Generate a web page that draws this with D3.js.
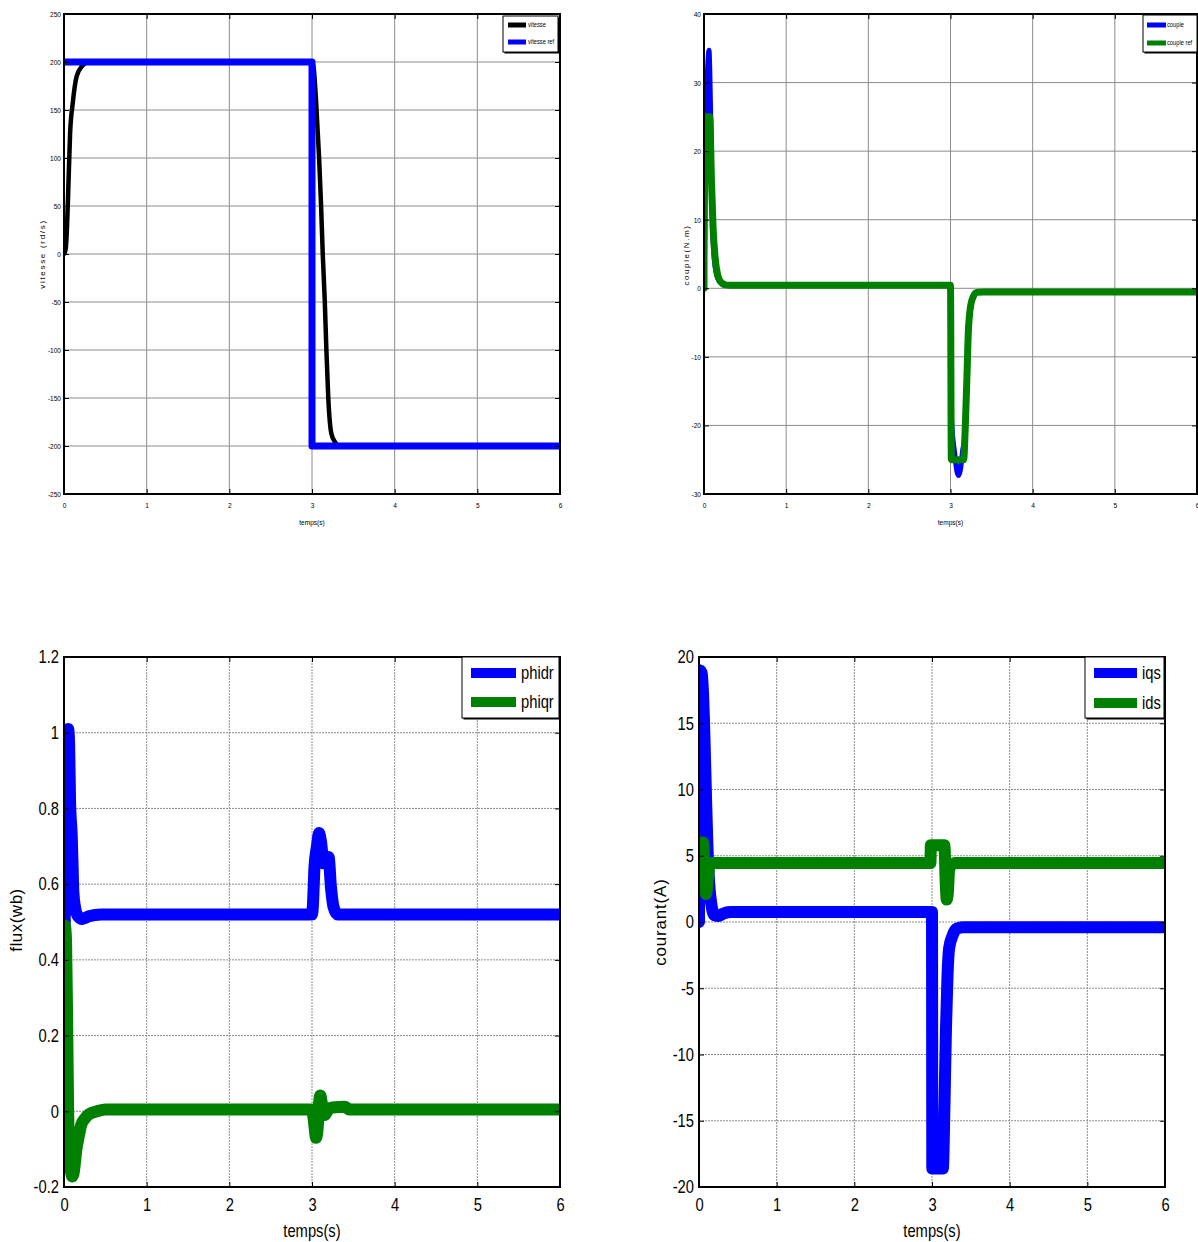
<!DOCTYPE html>
<html>
<head>
<meta charset="utf-8">
<script src="https://cdn.jsdelivr.net/npm/d3@7"></script>
<style>
  body { margin: 0; background: #ffffff; }
  svg { display: block; }
</style>
</head>
<body>
<svg id="fig" width="1198" height="1242"></svg>
<script>
// ---- shared time axis ----
const timeTicks = [0, 1, 2, 3, 4, 5, 6];

// ---- speed (rd/s) ----
const vitesseTicks = [-250, -200, -150, -100, -50, 0, 50, 100, 150, 200, 250];
const vitesseT = [0, 0.02, 0.035, 0.051, 0.074, 0.107, 0.153, 0.222, 0.3, 3.0, 3.02, 3.05, 3.086, 3.11, 3.13, 3.155, 3.174, 3.197, 3.234, 3.28, 3.33, 6];
const vitesseV = [0, 5, 25, 65, 126, 158, 185, 196, 200, 200, 194, 158, 100, 50, 0, -50, -100, -150, -187, -196, -200, -200];
const vitesseRefT = [0, 3, 3, 6];
const vitesseRefV = [200, 200, -200, -200];

// ---- electromagnetic torque (N.m) ----
const coupleTicks = [-30, -20, -10, 0, 10, 20, 30, 40];
const coupleT = [0, 0.01, 0.02, 0.035, 0.05, 0.061, 0.07, 0.08, 0.09, 0.1, 0.115, 0.135, 0.17, 0.235, 0.3, 3.0, 3.005, 3.012, 3.05, 3.08, 3.1, 3.12, 3.15, 3.17, 3.18, 3.2, 3.22, 3.26, 3.32, 3.4, 6];
const coupleV = [0, 8, 22, 29, 33.5, 34.7, 32, 26, 18, 11, 6, 3.2, 1.4, 0.6, 0.45, 0.45, -12, -19, -24, -26.8, -27.3, -26.5, -23.5, -22, -20.2, -12.9, -5.6, -1.75, -0.6, -0.54, -0.54];
const coupleRefT = [0, 0.004, 0.07, 0.09, 0.11, 0.135, 0.165, 0.2, 0.26, 0.3, 3.0, 3.01, 3.16, 3.18, 3.2, 3.22, 3.26, 3.32, 3.4, 6];
const coupleRefV = [0, 25, 25, 16, 9, 4.5, 2, 1, 0.5, 0.45, 0.45, -25, -25, -20.2, -12.9, -5.6, -1.75, -0.6, -0.54, -0.54];

// ---- rotor flux (wb) ----
const fluxTicks = [-0.2, 0, 0.2, 0.4, 0.6, 0.8, 1, 1.2];
const phidrT = [0, 0.01, 0.03, 0.05, 0.062, 0.073, 0.093, 0.105, 0.113, 0.133, 0.17, 0.22, 0.3, 0.45, 3.0, 3.01, 3.03, 3.06, 3.085, 3.11, 3.14, 3.17, 3.2, 3.23, 3.26, 3.31, 6];
const phidrV = [0, 0.55, 0.9, 1.01, 0.97, 0.82, 0.73, 0.64, 0.58, 0.54, 0.515, 0.508, 0.515, 0.52, 0.52, 0.54, 0.645, 0.7, 0.735, 0.71, 0.655, 0.66, 0.672, 0.59, 0.54, 0.52, 0.52];
const phiqrT = [0, 0.01, 0.025, 0.04, 0.05, 0.065, 0.08, 0.1, 0.115, 0.15, 0.18, 0.21, 0.25, 0.3, 0.4, 0.5, 3.0, 3.02, 3.05, 3.07, 3.085, 3.1, 3.12, 3.15, 3.2, 3.25, 3.4, 3.45, 6];
const phiqrV = [0, 0.49, 0.45, 0.2, 0.0, -0.1, -0.15, -0.172, -0.165, -0.1, -0.065, -0.035, -0.02, -0.008, 0.0, 0.005, 0.005, -0.02, -0.07, -0.04, 0.02, 0.042, 0.02, -0.01, 0.005, 0.01, 0.012, 0.005, 0.005];

// ---- stator currents (A) ----
const courantTicks = [-20, -15, -10, -5, 0, 5, 10, 15, 20];
const iqsT = [0, 0.005, 0.035, 0.05, 0.07, 0.09, 0.11, 0.13, 0.16, 0.2, 0.25, 0.3, 0.4, 3.0, 3.004, 3.14, 3.16, 3.18, 3.2, 3.22, 3.26, 3.32, 3.4, 6];
const iqsV = [0, 19, 18.8, 17.5, 14, 9.5, 5.5, 3, 1.3, 0.5, 0.45, 0.6, 0.75, 0.75, -18.6, -18.6, -14, -8, -4, -2, -1.1, -0.5, -0.4, -0.4];
const idsT = [0, 0.005, 0.05, 0.065, 0.08, 0.09, 0.11, 0.13, 0.16, 2.98, 2.985, 3.16, 3.175, 3.19, 3.205, 3.22, 3.25, 3.3, 6];
const idsV = [5, 6, 6, 4.5, 2.6, 2.1, 3.0, 4.1, 4.45, 4.45, 5.8, 5.8, 3.2, 1.7, 2.3, 3.9, 4.3, 4.45, 4.45];

const BLUE = "#0000ff", GREEN = "#008000", BLACK = "#000000";
const FONT = "'Liberation Sans', Arial, sans-serif";
const NARROW_K = 0.82;   // horizontal squeeze giving the condensed look of the labels

const svg = d3.select("#fig");
const zip = (ts, vs) => ts.map((t, i) => [t, vs[i]]);
const plain = d => String(+(+d).toFixed(2)); // hyphen-minus, no trailing zeros

// squeeze text horizontally about its own anchor point
function squeeze(sel, k) {
  sel.each(function () {
    const t = d3.select(this);
    const x = +(t.attr("x") || 0), y = +(t.attr("y") || 0);
    t.attr("transform", `translate(${x},${y}) scale(${k},1) translate(${-x},${-y})`);
  });
}

let clipCount = 0;
function panel(o) {
  const g = svg.append("g");
  const x = d3.scaleLinear().domain([0, 6]).range([o.left, o.right]);
  const y = d3.scaleLinear().domain(o.yDomain).range([o.bottom, o.top]);

  // grid
  g.append("g").selectAll("line").data(timeTicks.slice(1, -1)).join("line")
    .attr("x1", d => x(d)).attr("x2", d => x(d))
    .attr("y1", o.top).attr("y2", o.bottom)
    .attr("stroke", o.gridColor).attr("stroke-width", 1)
    .attr("stroke-dasharray", o.gridDash);
  g.append("g").selectAll("line").data(o.yTicks.slice(1, -1)).join("line")
    .attr("x1", o.left).attr("x2", o.right)
    .attr("y1", d => y(d)).attr("y2", d => y(d))
    .attr("stroke", o.gridColor).attr("stroke-width", 1)
    .attr("stroke-dasharray", o.gridDash);

  // series, clipped to the axes box
  const id = "clip" + (clipCount++);
  svg.append("clipPath").attr("id", id).append("rect")
    .attr("x", o.left).attr("y", o.top)
    .attr("width", o.right - o.left).attr("height", o.bottom - o.top);
  const sg = g.append("g").attr("clip-path", `url(#${id})`);
  o.series.forEach(s => {
    const line = d3.line().x(d => x(d[0])).y(d => y(d[1]))
      .curve(s.step ? d3.curveLinear : d3.curveMonotoneX);
    sg.append("path").datum(s.data)
      .attr("d", line).attr("fill", "none")
      .attr("stroke", s.color).attr("stroke-width", s.width)
      .attr("stroke-linejoin", "round").attr("stroke-linecap", "round");
  });

  // inward ticks on all four sides
  const tick = 5;
  const ax = (gen, tx, ty, labels) => {
    const a = g.append("g").attr("transform", `translate(${tx},${ty})`).call(gen);
    a.select(".domain").remove();
    a.selectAll("line").attr("stroke", "#000");
    if (!labels) a.selectAll("text").remove();
    return a;
  };
  const left = ax(d3.axisLeft(y).tickValues(o.yTicks).tickFormat(plain).tickSize(-tick).tickPadding(o.yPad), o.left, 0, true);
  const bottom = ax(d3.axisBottom(x).tickValues(timeTicks).tickFormat(plain).tickSize(-tick).tickPadding(o.xPad), 0, o.bottom, true);
  ax(d3.axisRight(y).tickValues(o.yTicks).tickSize(-tick), o.right, 0, false);
  ax(d3.axisTop(x).tickValues(timeTicks).tickSize(-tick), 0, o.top, false);
  [left, bottom].forEach(a => {
    const t = a.selectAll("text")
      .attr("font-family", FONT).attr("font-size", o.tickFont).attr("fill", "#000");
    squeeze(t, NARROW_K);
  });

  // frame
  g.append("rect").attr("x", o.left).attr("y", o.top)
    .attr("width", o.right - o.left).attr("height", o.bottom - o.top)
    .attr("fill", "none").attr("stroke", "#000").attr("stroke-width", o.frameWidth);

  // axis titles
  const xt = g.append("text").attr("x", (o.left + o.right) / 2).attr("y", o.xTitleY)
    .attr("text-anchor", "middle").attr("font-family", FONT)
    .attr("font-size", o.xTitleFont).text("temps(s)");
  squeeze(xt, NARROW_K);
  g.append("text")
    .attr("transform", `translate(${o.yTitleX},${o.yTitleCY}) rotate(-90)`)
    .attr("text-anchor", "middle").attr("dy", "0.35em")
    .attr("font-family", FONT).attr("font-size", o.yTitleFont)
    .attr("letter-spacing", o.yTitleSpacing)
    .text(o.yTitle);

  // legend
  const L = o.legend;
  g.append("rect").attr("x", L.x + 1.5).attr("y", L.y + 1.5).attr("width", L.w).attr("height", L.h).attr("fill", "#000");
  g.append("rect").attr("x", L.x).attr("y", L.y).attr("width", L.w).attr("height", L.h)
    .attr("fill", "#fff").attr("stroke", "#000").attr("stroke-width", 1);
  o.series.forEach((s, i) => {
    const cy = L.rows[i];
    g.append("line").attr("x1", L.sx0).attr("x2", L.sx1).attr("y1", cy).attr("y2", cy)
      .attr("stroke", s.color).attr("stroke-width", L.sw);
    const lt = g.append("text").attr("x", L.tx).attr("y", cy).attr("dy", "0.35em")
      .attr("font-family", FONT).attr("font-size", L.font).text(s.name);
    squeeze(lt, NARROW_K);
  });
}

// top-left: speed
panel({
  left: 64, right: 560, top: 14, bottom: 494,
  yDomain: [-250, 250], yTicks: vitesseTicks,
  yPad: 3, xPad: 8, tickFont: 8, frameWidth: 2,
  gridColor: "#8c8c8c", gridDash: null,
  xTitleY: 525, xTitleFont: 8,
  yTitle: "vitesse (rd/s)", yTitleX: 42, yTitleCY: 254, yTitleFont: 8, yTitleSpacing: 1.7,
  series: [
    { name: "vitesse", color: BLACK, width: 4.5, data: zip(vitesseT, vitesseV) },
    { name: "vitesse ref", color: BLUE, width: 7, data: zip(vitesseRefT, vitesseRefV), step: true }
  ],
  legend: { x: 503, y: 16, w: 55, h: 36, rows: [25, 42], sx0: 508, sx1: 526, sw: 5, tx: 528, font: 7 }
});

// top-right: torque
panel({
  left: 704, right: 1197, top: 14, bottom: 494,
  yDomain: [-30, 40], yTicks: coupleTicks,
  yPad: 3, xPad: 8, tickFont: 8, frameWidth: 2,
  gridColor: "#8c8c8c", gridDash: null,
  xTitleY: 525, xTitleFont: 8,
  yTitle: "couple(N.m)", yTitleX: 686, yTitleCY: 255, yTitleFont: 8, yTitleSpacing: 1.6,
  series: [
    { name: "couple", color: BLUE, width: 5, data: zip(coupleT, coupleV) },
    { name: "couple ref", color: GREEN, width: 7, data: zip(coupleRefT, coupleRefV) }
  ],
  legend: { x: 1143, y: 15, w: 54, h: 37, rows: [25, 43], sx0: 1147, sx1: 1166, sw: 5, tx: 1167, font: 7 }
});

// bottom-left: rotor flux
panel({
  left: 64, right: 560, top: 657, bottom: 1187,
  yDomain: [-0.2, 1.2], yTicks: fluxTicks,
  yPad: 5, xPad: 11, tickFont: 18, frameWidth: 2,
  gridColor: "#8c8c8c", gridDash: "2,1",
  xTitleY: 1237, xTitleFont: 18,
  yTitle: "flux(wb)", yTitleX: 16, yTitleCY: 920, yTitleFont: 17, yTitleSpacing: 0.5,
  series: [
    { name: "phidr", color: BLUE, width: 12, data: zip(phidrT, phidrV) },
    { name: "phiqr", color: GREEN, width: 12, data: zip(phiqrT, phiqrV) }
  ],
  legend: { x: 462, y: 657, w: 97, h: 61, rows: [673, 702], sx0: 471, sx1: 516, sw: 10, tx: 521, font: 18 }
});

// bottom-right: stator currents
panel({
  left: 699, right: 1165, top: 657, bottom: 1187,
  yDomain: [-20, 20], yTicks: courantTicks,
  yPad: 5, xPad: 11, tickFont: 18, frameWidth: 2,
  gridColor: "#8c8c8c", gridDash: "2,1",
  xTitleY: 1237, xTitleFont: 18,
  yTitle: "courant(A)", yTitleX: 660, yTitleCY: 922, yTitleFont: 17, yTitleSpacing: 0.8,
  series: [
    { name: "iqs", color: BLUE, width: 12, data: zip(iqsT, iqsV) },
    { name: "ids", color: GREEN, width: 12, data: zip(idsT, idsV) }
  ],
  legend: { x: 1085, y: 657, w: 79, h: 61, rows: [673, 703], sx0: 1094, sx1: 1137, sw: 10, tx: 1142, font: 18 }
});
</script>
</body>
</html>
